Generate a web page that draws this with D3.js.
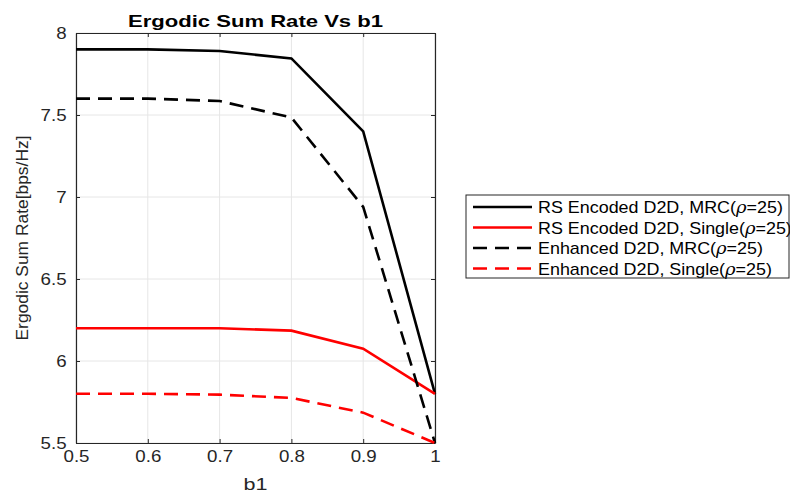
<!DOCTYPE html>
<html>
<head>
<meta charset="utf-8">
<script src="https://cdn.jsdelivr.net/npm/d3@7"></script>
<style>
  body { margin: 0; background: #fff; }
  svg { display: block; font-family: "Liberation Sans", Arial, sans-serif; }
</style>
</head>
<body>
<svg id="chart" width="790" height="493"></svg>
<script>
// data
var b1 = [0.5, 0.6, 0.7, 0.8, 0.9, 1.0];
var rsMrc = [7.90, 7.90, 7.89, 7.845, 7.40, 5.80];
var rsSingle = [6.20, 6.20, 6.20, 6.185, 6.075, 5.80];
var enhMrc = [7.60, 7.60, 7.585, 7.485, 6.94, 5.50];
var enhSingle = [5.80, 5.80, 5.795, 5.775, 5.685, 5.50];
var xTicks = [0.5, 0.6, 0.7, 0.8, 0.9, 1];
var yTicks = [5.5, 6, 6.5, 7, 7.5, 8];

var series = [
  {name: 'RS Encoded D2D, MRC(', values: rsMrc, color: '#000', dash: null},
  {name: 'RS Encoded D2D, Single(', values: rsSingle, color: '#ff0000', dash: null},
  {name: 'Enhanced D2D, MRC(', values: enhMrc, color: '#000', dash: '14,8'},
  {name: 'Enhanced D2D, Single(', values: enhSingle, color: '#ff0000', dash: '14,8'}
];

var svg = d3.select('#chart');
var pLeft = 76, pRight = 435, pTop = 33, pBottom = 443;
var stretch = 1.17; // the picture text is a bit wide

var x = d3.scaleLinear().domain([0.5, 1]).range([pLeft, pRight]);
var y = d3.scaleLinear().domain([5.5, 8]).range([pBottom, pTop]);

// grid
var grid = svg.append('g').attr('class', 'grid');
grid.selectAll('line.vx').data(xTicks).enter().append('line')
    .attr('x1', function(d){ return x(d); }).attr('x2', function(d){ return x(d); })
    .attr('y1', pTop).attr('y2', pBottom)
    .attr('stroke', '#e6e6e6').attr('stroke-width', 1);
grid.selectAll('line.hy').data(yTicks).enter().append('line')
    .attr('y1', function(d){ return y(d); }).attr('y2', function(d){ return y(d); })
    .attr('x1', pLeft).attr('x2', pRight)
    .attr('stroke', '#e6e6e6').attr('stroke-width', 1);

// axes (ticks inside, matlab style)
var fmt = function(d){ return d3.format('')(d); };
var xAxis = svg.append('g').attr('transform', 'translate(0,' + pBottom + ')')
    .call(d3.axisBottom(x).tickValues(xTicks).tickFormat(fmt).tickSizeInner(-4).tickSizeOuter(0).tickPadding(8));
var xAxisTop = svg.append('g').attr('transform', 'translate(0,' + pTop + ')')
    .call(d3.axisTop(x).tickValues(xTicks).tickFormat('').tickSizeInner(-4).tickSizeOuter(0));
var yAxis = svg.append('g').attr('transform', 'translate(' + pLeft + ',0)')
    .call(d3.axisLeft(y).tickValues(yTicks).tickFormat(fmt).tickSizeInner(-4).tickSizeOuter(0).tickPadding(8));
var yAxisRight = svg.append('g').attr('transform', 'translate(' + pRight + ',0)')
    .call(d3.axisRight(y).tickValues(yTicks).tickFormat('').tickSizeInner(-4).tickSizeOuter(0));

[xAxis, xAxisTop, yAxis, yAxisRight].forEach(function(a){
  a.select('.domain').attr('stroke', '#262626').attr('stroke-width', 1.2);
  a.selectAll('.tick line').attr('stroke', '#262626');
  a.selectAll('.tick text').attr('fill', '#262626').style('font-size', '16px')
    .style('font-family', '"Liberation Sans", Arial, sans-serif')
    .attr('transform', 'scale(' + stretch + ',1)');
});
xAxis.selectAll('.tick text').attr('dy', '0.71em');

// lines
var line = d3.line()
    .x(function(d, i){ return x(b1[i]); })
    .y(function(d){ return y(d); });

svg.append('g').selectAll('path').data(series).enter().append('path')
    .attr('d', function(s){ return line(s.values); })
    .attr('fill', 'none')
    .attr('stroke', function(s){ return s.color; })
    .attr('stroke-width', 2.6)
    .attr('stroke-dasharray', function(s){ return s.dash; });

// titles
svg.append('text').attr('x', (pLeft + pRight) / 2).attr('y', 27)
    .attr('text-anchor', 'middle').style('font-size', '17px').style('font-weight', 'bold')
    .attr('textLength', 255).attr('lengthAdjust', 'spacingAndGlyphs')
    .attr('fill', '#000').text('Ergodic Sum Rate Vs b1');
svg.append('text').attr('x', (pLeft + pRight) / 2).attr('y', 490)
    .attr('text-anchor', 'middle').style('font-size', '17px').attr('fill', '#262626')
    .attr('textLength', 24).attr('lengthAdjust', 'spacingAndGlyphs')
    .text('b1');
svg.append('text').attr('transform', 'translate(28,' + ((pTop + pBottom) / 2) + ') rotate(-90)')
    .attr('text-anchor', 'middle').style('font-size', '17px').attr('fill', '#262626')
    .attr('textLength', 205).attr('lengthAdjust', 'spacingAndGlyphs')
    .text('Ergodic Sum Rate[bps/Hz]');

// legend
var lg = svg.append('g').attr('transform', 'translate(466,195)');
var rows = lg.selectAll('g.row').data(series).enter().append('g')
    .attr('transform', function(s, i){ return 'translate(0,' + (12 + i * 20.5) + ')'; });
rows.append('line').attr('x1', 7).attr('x2', 66).attr('y1', 0).attr('y2', 0)
    .attr('stroke', function(s){ return s.color; })
    .attr('stroke-width', 2.6)
    .attr('stroke-dasharray', function(s){ return s.dash; });
var t = rows.append('text').attr('transform', 'translate(72,6) scale(1.12,1)')
    .style('font-size', '16px').attr('fill', '#000');
t.append('tspan').text(function(s){ return s.name; });
t.append('tspan').style('font-style', 'italic').style('font-family', '"DejaVu Serif", serif').text('ρ');
t.append('tspan').text('=25)');
lg.append('rect').attr('x', 0).attr('y', 0).attr('width', 323).attr('height', 83)
    .attr('fill', 'none').attr('stroke', '#262626').attr('stroke-width', 1);
</script>
</body>
</html>
